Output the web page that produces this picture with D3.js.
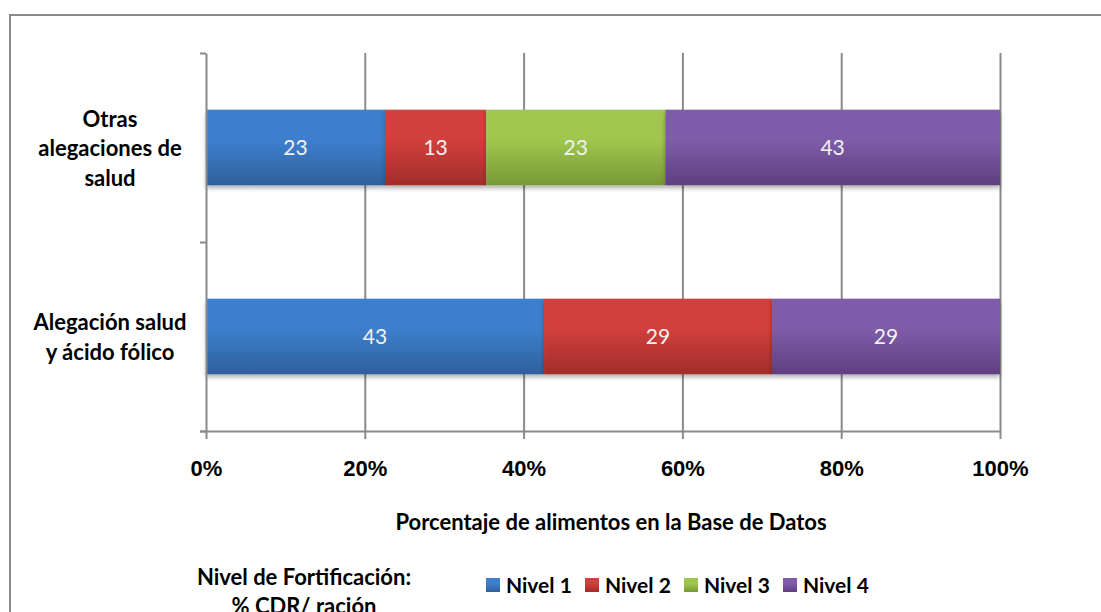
<!DOCTYPE html>
<html>
<head>
<meta charset="utf-8">
<script src="https://cdn.jsdelivr.net/npm/d3@7"></script>
<style>
  body { margin: 0; background: #fff; }
  svg { display: block; font-family: Lato, "Liberation Sans", sans-serif; }
</style>
</head>
<body>
<div id="chart"></div>
<script>
// categories from top to bottom
const categories = [
  ['Otras', 'alegaciones de', 'salud'],
  ['Alegación salud', 'y ácido fólico'],
];
const series = ['Nivel 1', 'Nivel 2', 'Nivel 3', 'Nivel 4'];
const nivel1 = [23, 43];
const nivel2 = [13, 29];
const nivel3 = [23, 0];
const nivel4 = [43, 29];
const xTicks = [0, 0.2, 0.4, 0.6, 0.8, 1];
const xTitle = 'Porcentaje de alimentos en la Base de Datos';
const legendTitle = ['Nivel de Fortificación:', '% CDR/ ración'];

const colors = [
  ['#3d7fcd', '#2f5f9c'],
  ['#d13f3c', '#a22d2a'],
  ['#9fc74d', '#779836'],
  ['#7e5ca9', '#5f3f7f'],
];

const width = 1101;
const height = 612;
const margin = { top: 53, right: 101, bottom: 181, left: 206 };

const usableArea = {
  top: margin.top,
  right: width - margin.right,
  bottom: height - margin.bottom,
  left: margin.left,
};

const rows = categories.map((c, i) => ({
  key: i,
  lines: c,
  'Nivel 1': nivel1[i],
  'Nivel 2': nivel2[i],
  'Nivel 3': nivel3[i],
  'Nivel 4': nivel4[i],
}));

const stacked = d3.stack().keys(series).offset(d3.stackOffsetExpand)(rows);

const svg = d3
  .select('#chart')
  .append('svg')
  .attr('width', width)
  .attr('height', height);

// gradients like the original bars
const defs = svg.append('defs');
colors.forEach((c, i) => {
  const g = defs.append('linearGradient')
    .attr('id', 'grad' + i)
    .attr('x1', 0).attr('y1', 0).attr('x2', 0).attr('y2', 1);
  g.append('stop').attr('offset', '0%').attr('stop-color', c[0]);
  g.append('stop').attr('offset', '40%').attr('stop-color', c[0]);
  g.append('stop').attr('offset', '100%').attr('stop-color', c[1]);
});
const shadow = defs.append('filter').attr('id', 'shadow')
  .attr('x', '-5%').attr('y', '-20%').attr('width', '110%').attr('height', '150%');
shadow.append('feDropShadow')
  .attr('dx', 0).attr('dy', 3).attr('stdDeviation', 2)
  .attr('flood-color', '#000').attr('flood-opacity', 0.3);

// outer frame
svg.append('path')
  .attr('d', `M10,${height + 5} V15 H${width + 5}`)
  .attr('fill', 'none')
  .attr('stroke', '#8a8a8a')
  .attr('stroke-width', 2);

const xScale = d3.scaleLinear()
  .domain([0, 1])
  .range([usableArea.left, usableArea.right]);

const yScale = d3.scaleBand()
  .domain(rows.map((d) => d.key))
  .range([usableArea.top, usableArea.bottom])
  .paddingInner(0.6)
  .paddingOuter(0.3);

const yEdges = d3.scaleLinear()
  .domain([0, categories.length])
  .range([usableArea.top, usableArea.bottom]);

// gridlines
svg.append('g')
  .attr('class', 'gridlines')
  .attr('transform', `translate(0, ${usableArea.top})`)
  .call(d3.axisBottom(xScale).tickValues(xTicks.slice(1)).tickFormat('')
    .tickSize(usableArea.bottom - usableArea.top))
  .call((g) => g.select('.domain').remove())
  .call((g) => g.selectAll('line').attr('stroke', '#8a8a8a').attr('stroke-width', 2));

// bars
const layers = svg.append('g').attr('class', 'bars')
  .selectAll('g')
  .data(stacked)
  .join('g')
  .attr('fill', (d, i) => `url(#grad${i})`);

layers.selectAll('rect')
  .data((d) => d.filter((p) => p[1] > p[0]))
  .join('rect')
  .attr('x', (d) => xScale(d[0]))
  .attr('y', (d) => yScale(d.data.key))
  .attr('width', (d) => xScale(d[1]) - xScale(d[0]))
  .attr('height', yScale.bandwidth())
  .attr('filter', 'url(#shadow)');

// data labels
stacked.forEach((layer) => {
  svg.append('g')
    .selectAll('text')
    .data(layer.filter((p) => p[1] > p[0]))
    .join('text')
    .attr('x', (d) => (xScale(d[0]) + xScale(d[1])) / 2)
    .attr('y', (d) => yScale(d.data.key) + yScale.bandwidth() / 2)
    .attr('dy', '0.35em')
    .attr('text-anchor', 'middle')
    .attr('fill', '#f2f2f2')
    .style('font-size', '21px')
    .text((d) => d.data[layer.key]);
});

// x axis
const xAxis = svg.append('g')
  .attr('transform', `translate(0, ${usableArea.bottom})`)
  .call(d3.axisBottom(xScale).tickValues(xTicks).tickFormat(d3.format('.0%'))
    .tickSize(8).tickSizeOuter(0).tickPadding(21));
xAxis.select('.domain')
  .attr('d', `M${usableArea.left - 6},0.5H${usableArea.right}`);
xAxis.selectAll('line, .domain').attr('stroke', '#8a8a8a').attr('stroke-width', 2);
xAxis.selectAll('text')
  .attr('fill', '#000')
  .style('font-size', '22px')
  .style('font-weight', 'bold');

// y axis (ticks at category edges)
const yAxis = svg.append('g')
  .attr('transform', `translate(${usableArea.left}, 0)`)
  .call(d3.axisLeft(yEdges).ticks(categories.length).tickFormat('').tickSize(6).tickSizeOuter(0));
yAxis.selectAll('line, .domain').attr('stroke', '#8a8a8a').attr('stroke-width', 2);

// category labels
const catLabels = svg.append('g')
  .selectAll('text')
  .data(rows)
  .join('text')
  .attr('text-anchor', 'middle')
  .attr('x', 110)
  .attr('y', (d) => yScale(d.key) + yScale.bandwidth() / 2 + 1)
  .style('font-size', '22px')
  .style('font-weight', 'bold')
  .attr('fill', '#000');

catLabels.selectAll('tspan')
  .data((d) => d.lines.map((t, i) => ({ t, i, n: d.lines.length })))
  .join('tspan')
  .attr('x', 110)
  .attr('dy', (d) => d.i === 0 ? `${0.35 - (d.n - 1) * 0.67}em` : '1.34em')
  .text((d) => d.t);

// axis title
svg.append('text')
  .attr('x', 611)
  .attr('y', 530)
  .attr('text-anchor', 'middle')
  .style('font-size', '22px')
  .style('font-weight', 'bold')
  .text(xTitle);

// legend title
svg.append('text')
  .attr('text-anchor', 'middle')
  .attr('x', 304)
  .attr('y', 585)
  .style('font-size', '22px')
  .style('font-weight', 'bold')
  .selectAll('tspan')
  .data(legendTitle)
  .join('tspan')
  .attr('x', 304)
  .attr('dy', (d, i) => i === 0 ? 0 : '1.3em')
  .text((d) => d);

// legend
const legendX = [486, 585, 684, 783];
const legend = svg.append('g')
  .selectAll('g')
  .data(series)
  .join('g')
  .attr('transform', (d, i) => `translate(${legendX[i]}, 578)`);
legend.append('rect')
  .attr('width', 14)
  .attr('height', 14)
  .attr('fill', (d, i) => `url(#grad${i})`);
legend.append('text')
  .attr('x', 20)
  .attr('y', 7)
  .attr('dy', '0.36em')
  .style('font-size', '21px')
  .style('font-weight', 'bold')
  .text((d) => d);
</script>
</body>
</html>
